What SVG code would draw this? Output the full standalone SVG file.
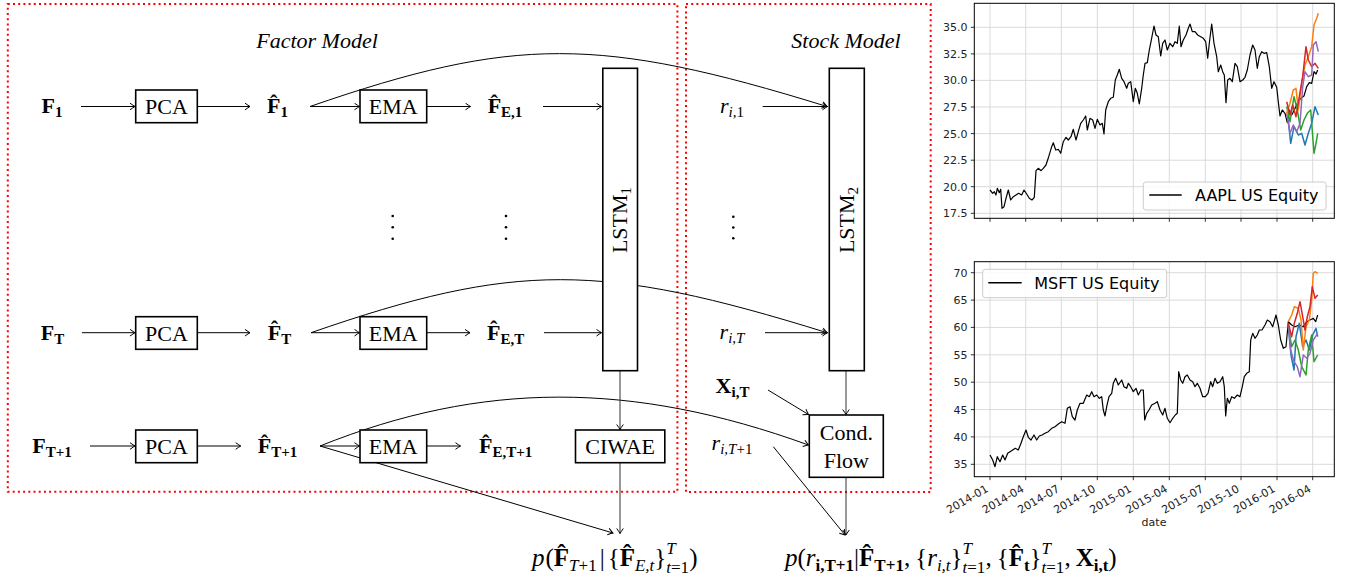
<svg xmlns="http://www.w3.org/2000/svg" width="1347" height="583" viewBox="0 0 1347 583">
<style>
.m{font-family:"Liberation Serif","DejaVu Serif",serif;font-size:22px;fill:#000}
.f{font-size:25px}
.b{font-weight:bold}
.i{font-style:italic}
.s{font-size:15px}
.fs{font-size:17px}
.box{fill:#fff;stroke:#000;stroke-width:1.6}
.red{fill:none;stroke:#f00;stroke-width:2;stroke-dasharray:2 3.2}
.c{fill:none;stroke:#000;stroke-width:1}
.cg{fill:none;stroke:#333;stroke-width:1}
.a{marker-end:url(#ah)}
.dot{fill:#000}
.ax{font-family:"DejaVu Sans",sans-serif;font-size:11px;fill:#222}
.lg{font-family:"DejaVu Sans",sans-serif;font-size:16px;fill:#000}
.grid{stroke:#d6d6d6;stroke-width:0.9;fill:none}
.spine{fill:none;stroke:#000;stroke-width:1}
.tick{stroke:#000;stroke-width:0.8}
.ser{fill:none;stroke-width:1.2;stroke-linejoin:round}
.fc{fill:none;stroke-width:1.5;stroke-linejoin:round}
.legbox{fill:#fff;fill-opacity:0.85;stroke:#ccc;stroke-width:1}
</style>
<defs>
<marker id="ah" viewBox="-6 -4 7 8" refX="0" refY="0" markerWidth="7" markerHeight="8" markerUnits="userSpaceOnUse" orient="auto">
<path d="M-5,-3.3 Q-1.5,-0.8 0,0 Q-1.5,0.8 -5,3.3" fill="none" stroke="#000" stroke-width="1"/>
</marker>
</defs>
<rect width="1347" height="583" fill="#fff"/>

<g id="frames">
<rect class="red" x="7.8" y="4" width="669.6" height="487.7"/>
<rect class="red" x="686" y="4" width="244.7" height="488"/>
<text class="m i" x="317" y="48" text-anchor="middle">Factor Model</text>
<text class="m i" x="846" y="48" text-anchor="middle">Stock Model</text>
</g>

<g id="connectors">
<line class="c a" x1="81" y1="106.5" x2="135" y2="106.5"/>
<line class="c a" x1="197.3" y1="106.5" x2="250" y2="106.5"/>
<line class="c a" x1="310" y1="106.5" x2="359.5" y2="106.5"/>
<line class="c a" x1="426.7" y1="106.5" x2="470.5" y2="106.5"/>
<line class="c a" x1="543" y1="106.5" x2="601.5" y2="106.5"/>
<path class="c a" d="M310,106.5 C514,36 599,36 827,106.5"/>
<line class="c a" x1="762.7" y1="106.5" x2="827.5" y2="106.5"/>

<line class="c a" x1="82" y1="332.7" x2="135" y2="332.7"/>
<line class="c a" x1="197.3" y1="332.7" x2="250" y2="332.7"/>
<line class="c a" x1="311" y1="332.7" x2="359.5" y2="332.7"/>
<line class="c a" x1="426.7" y1="332.7" x2="470" y2="332.7"/>
<line class="c a" x1="544" y1="332.7" x2="601.5" y2="332.7"/>
<path class="c a" d="M311,332.7 C515,262 600,262 827,332.7"/>
<line class="c a" x1="765" y1="332.7" x2="827.5" y2="332.7"/>

<line class="c a" x1="90" y1="446" x2="135" y2="446"/>
<line class="c a" x1="197.3" y1="446" x2="240.7" y2="446"/>
<line class="c a" x1="320" y1="446" x2="359.5" y2="446"/>
<line class="c a" x1="426.7" y1="446" x2="460.5" y2="446"/>
<path class="c a" d="M320,446 C482,381 632,381 808.5,445"/>
<line class="c a" x1="320" y1="446" x2="613" y2="533"/>

<line class="cg a" x1="620" y1="370.7" x2="620" y2="429.5"/>
<line class="cg a" x1="620" y1="462.7" x2="620" y2="533.5"/>
<line class="cg a" x1="846" y1="370.7" x2="846" y2="414.5"/>
<line class="cg a" x1="846" y1="477.3" x2="846" y2="535"/>
<line class="c a" x1="768" y1="390" x2="808.5" y2="414.5"/>
<line class="c a" x1="773.3" y1="446.7" x2="845" y2="535"/>
</g>

<g id="node-F1"><text class="m b" x="52" y="113" text-anchor="middle">F<tspan class="s" dy="4">1</tspan></text></g>
<g id="node-PCA1"><rect class="box" x="135.7" y="90" width="61.6" height="32.7"/><text class="m" x="166.5" y="114" text-anchor="middle">PCA</text></g>
<g id="node-Fhat1"><text class="m b" x="277.5" y="113" text-anchor="middle">F̂<tspan class="s" dy="4">1</tspan></text></g>
<g id="node-EMA1"><rect class="box" x="360" y="90" width="66.7" height="32.7"/><text class="m" x="393.3" y="114" text-anchor="middle">EMA</text></g>
<g id="node-FhatE1"><text class="m b" x="505" y="113" text-anchor="middle">F̂<tspan class="s" dy="4">E,1</tspan></text></g>

<g id="node-FT"><text class="m b" x="52.5" y="339.5" text-anchor="middle">F<tspan class="s" dy="4">T</tspan></text></g>
<g id="node-PCAT"><rect class="box" x="135.7" y="316.7" width="61.6" height="32.6"/><text class="m" x="166.5" y="340.6" text-anchor="middle">PCA</text></g>
<g id="node-FhatT"><text class="m b" x="279.5" y="339.5" text-anchor="middle">F̂<tspan class="s" dy="4">T</tspan></text></g>
<g id="node-EMAT"><rect class="box" x="360" y="316.7" width="66.7" height="32.6"/><text class="m" x="393.3" y="340.6" text-anchor="middle">EMA</text></g>
<g id="node-FhatET"><text class="m b" x="505.6" y="339.5" text-anchor="middle">F̂<tspan class="s" dy="4">E,T</tspan></text></g>

<g id="node-FT1"><text class="m b" x="52" y="453" text-anchor="middle">F<tspan class="s" dy="4">T+1</tspan></text></g>
<g id="node-PCAT1"><rect class="box" x="135.7" y="430" width="61.6" height="32.7"/><text class="m" x="166.5" y="454" text-anchor="middle">PCA</text></g>
<g id="node-FhatT1"><text class="m b" x="277.5" y="453" text-anchor="middle">F̂<tspan class="s" dy="4">T+1</tspan></text></g>
<g id="node-EMAT1"><rect class="box" x="360" y="430" width="66.7" height="32.7"/><text class="m" x="393.3" y="454" text-anchor="middle">EMA</text></g>
<g id="node-FhatET1"><text class="m b" x="505.6" y="453" text-anchor="middle">F̂<tspan class="s" dy="4">E,T+1</tspan></text></g>

<g id="dots">
<circle class="dot" cx="392.7" cy="216" r="1.3"/><circle class="dot" cx="392.7" cy="227.3" r="1.3"/><circle class="dot" cx="392.7" cy="238.7" r="1.3"/>
<circle class="dot" cx="506" cy="216" r="1.3"/><circle class="dot" cx="506" cy="227.3" r="1.3"/><circle class="dot" cx="506" cy="238.7" r="1.3"/>
<circle class="dot" cx="733.3" cy="216.7" r="1.3"/><circle class="dot" cx="733.3" cy="227.5" r="1.3"/><circle class="dot" cx="733.3" cy="238.3" r="1.3"/>
</g>

<g id="node-LSTM1"><rect class="box" x="602.8" y="68.3" width="34.7" height="302.4"/><text class="m" transform="translate(627,220) rotate(-90)" text-anchor="middle">LSTM<tspan class="s" dy="4">1</tspan></text></g>
<g id="node-CIWAE"><rect class="box" x="575.5" y="430" width="89.3" height="32.7"/><text class="m" x="620.2" y="454" text-anchor="middle">CIWAE</text></g>

<g id="node-ri1"><text class="m i" x="732" y="113" text-anchor="middle">r<tspan class="s" dy="4">i,</tspan><tspan class="s" font-style="normal">1</tspan></text></g>
<g id="node-riT"><text class="m i" x="732" y="339" text-anchor="middle">r<tspan class="s" dy="4">i,T</tspan></text></g>
<g id="node-XiT"><text class="m b" x="732.5" y="393" text-anchor="middle">X<tspan class="s" dy="4">i,T</tspan></text></g>
<g id="node-riT1"><text class="m i" x="732" y="450" text-anchor="middle">r<tspan class="s" dy="4">i,T</tspan><tspan class="s" font-style="normal">+1</tspan></text></g>
<g id="node-LSTM2"><rect class="box" x="829.3" y="68.3" width="35" height="302.4"/><text class="m" transform="translate(853.5,220) rotate(-90)" text-anchor="middle">LSTM<tspan class="s" dy="4">2</tspan></text></g>
<g id="node-CondFlow"><rect class="box" x="809.3" y="415" width="74" height="62.3"/><text class="m" x="846.3" y="440" text-anchor="middle">Cond.</text><text class="m" x="846.3" y="468" text-anchor="middle">Flow</text></g>

<g id="node-formula1"><text class="m f" x="532" y="566"><tspan class="i">p</tspan><tspan dx="1">(</tspan><tspan class="b">F̂</tspan><tspan class="fs i" dy="4.5">T</tspan><tspan class="fs">+1</tspan><tspan dy="-4.5" dx="3">|</tspan><tspan dx="3">{</tspan><tspan class="b">F̂</tspan><tspan class="fs i" dy="4.5">E,t</tspan><tspan dy="-4.5">}</tspan><tspan class="fs i" dy="-12.5">T</tspan><tspan class="fs i" dx="-9.5" dy="19">t</tspan><tspan class="fs">=1</tspan><tspan dy="-6.5">)</tspan></text></g>

<g id="node-formula2"><text class="m f" x="785" y="566"><tspan class="i">p</tspan>(<tspan class="i">r</tspan><tspan class="fs b" dy="4.5">i,T+1</tspan><tspan dy="-4.5">|</tspan><tspan class="b">F̂</tspan><tspan class="fs b" dy="4.5">T+1</tspan><tspan dy="-4.5">,</tspan><tspan dx="5">{</tspan><tspan class="i">r</tspan><tspan class="fs i" dy="4.5">i,t</tspan><tspan dy="-4.5">}</tspan><tspan class="fs i" dy="-12.5">T</tspan><tspan class="fs i" dx="-9.5" dy="19">t</tspan><tspan class="fs">=1</tspan><tspan dy="-6.5">,</tspan><tspan dx="5">{</tspan><tspan class="b">F̂</tspan><tspan class="fs b" dy="4.5">t</tspan><tspan dy="-4.5">}</tspan><tspan class="fs i" dy="-12.5">T</tspan><tspan class="fs i" dx="-9.5" dy="19">t</tspan><tspan class="fs">=1</tspan><tspan dy="-6.5">,</tspan><tspan class="b" dx="5">X</tspan><tspan class="fs b" dy="4.5">i,t</tspan><tspan dy="-4.5">)</tspan></text></g>

<g id="chart-aapl">
<g class="grid">
<path d="M990,3.3V218.3M1025.7,3.3V218.3M1061.3,3.3V218.3M1097.3,3.3V218.3M1133.3,3.3V218.3M1169.3,3.3V218.3M1205.3,3.3V218.3M1241,3.3V218.3M1277,3.3V218.3M1312.7,3.3V218.3"/>
<path d="M974.3,27.3H1334.3M974.3,53.9H1334.3M974.3,80.4H1334.3M974.3,107H1334.3M974.3,133.6H1334.3M974.3,160.2H1334.3M974.3,186.7H1334.3M974.3,213.3H1334.3"/>
</g>
<polyline class="ser" stroke="#000" points="990,190 992.7,193.3 994.3,191.7 996,195 997.3,188.3 999.3,192.7 1000.7,189.3 1002,208.3 1004,206.7 1006,198.3 1008.3,190 1010.7,200 1013.3,196.7 1016,195 1018.7,193.3 1021.7,195 1024,190 1026.7,194 1029.3,198.3 1032,200 1034.3,197.3 1036,170.7 1038.3,168.3 1041,170.7 1043.3,168.3 1046,165 1048.7,156.7 1051.7,146.7 1053.3,142.7 1055.7,150 1058.3,149.3 1060.7,153.3 1063.3,141.7 1066,137.3 1068.3,140 1071,136.7 1073.3,129.3 1076,140 1078.3,131.7 1080.7,123.3 1083.3,120 1085.7,116 1087.3,130 1090,118.3 1092.7,120 1095,128.3 1097.3,119.3 1100,125 1102.3,123.3 1104,134 1105.7,110 1108.3,101.7 1110.7,98.3 1113.3,97.3 1115.3,80 1117.3,75 1119.3,69.3 1121.7,78.3 1124,81.7 1126.7,88.3 1128.3,83.3 1130.7,81.7 1133.3,101.7 1135.3,88.3 1137.3,93.3 1139.3,104 1141.7,88.3 1143.3,75 1145,63.3 1147.3,62.7 1149.3,50 1151,41.7 1154,26 1156,35 1158.3,36.7 1160.7,56 1162.7,43.3 1165,40 1167.3,50 1170,43.3 1172.7,46.7 1175,41.7 1177.3,43.3 1179.3,26 1181,46.7 1183.3,40 1186,35 1188.3,28.3 1190,24 1192.3,31.7 1195,31.7 1197.7,35 1200.7,36.7 1203.3,38.3 1205.7,41.7 1207.7,58.3 1209.3,43.3 1211.7,24 1214,43.3 1216.7,56.7 1218.3,71.7 1220.7,65 1222.7,71.7 1224.3,75 1226,102.7 1227.7,80 1230,78.3 1232.3,81.7 1235,63.3 1237.3,66.7 1240,81.7 1242.7,80 1245,77.3 1247.3,70 1250,55 1252.7,45 1255,50 1257.3,68.3 1259.3,56.7 1261.7,51.7 1264,53.3 1266.7,52.7 1269.3,66.7 1271.7,88.3 1274,81.7 1276.7,87.3 1278.3,101.7 1280,116 1282.3,110 1285,113.3 1287.3,122.7 1289.3,110 1291.7,115 1294.3,110 1297.3,103.3 1300.7,98.3 1304,96 1306.7,86.7 1309.3,82.7 1311.7,83.3 1314,71.7 1316,74 1317.7,70"/>
<polyline class="fc" stroke="#1f77b4" points="1288.3,120 1290.7,143.3 1294,126.7 1298.3,135 1301.7,133.3 1305,145 1308.3,133.3 1311.7,123.3 1315,106.7 1318.3,115"/>
<polyline class="fc" stroke="#2ca02c" points="1286.7,106.7 1290,121.7 1294,96.7 1297.3,110 1300.7,130 1304,120 1307.3,113.3 1310.7,110 1314,153.3 1316,143.3 1317.7,133.3"/>
<polyline class="fc" stroke="#ff7f0e" points="1286.7,113.3 1290,103.3 1293.3,90 1296,88.3 1298.3,110 1301.7,83.3 1305,65 1308.3,56.7 1311.7,46.7 1314,25 1316.7,18.3 1318.3,13.3"/>
<polyline class="fc" stroke="#d62728" points="1286.7,101.7 1290,115 1292.7,105 1296,116.7 1299.3,96.7 1302.7,76.7 1306,46.7 1308.3,60 1311.7,66.7 1315,63.3 1318.3,68.3"/>
<polyline class="fc" stroke="#9467bd" points="1286.7,113.3 1290,133.3 1293.3,125 1296.7,131.7 1300,123.3 1302.7,86.7 1305,71.7 1308.3,76.7 1311.7,75 1313.3,45 1316,41.7 1318.3,51.7"/>
<rect class="spine" x="974.3" y="3.3" width="360" height="215"/>
<path class="tick" d="M974.3,27.3h-3.5M974.3,53.9h-3.5M974.3,80.4h-3.5M974.3,107h-3.5M974.3,133.6h-3.5M974.3,160.2h-3.5M974.3,186.7h-3.5M974.3,213.3h-3.5M990,218.3v3.5M1025.7,218.3v3.5M1061.3,218.3v3.5M1097.3,218.3v3.5M1133.3,218.3v3.5M1169.3,218.3v3.5M1205.3,218.3v3.5M1241,218.3v3.5M1277,218.3v3.5M1312.7,218.3v3.5"/>
<g class="ax" text-anchor="end">
<text x="967.5" y="31.3">35.0</text><text x="967.5" y="57.9">32.5</text><text x="967.5" y="84.4">30.0</text><text x="967.5" y="111">27.5</text><text x="967.5" y="137.6">25.0</text><text x="967.5" y="164.2">22.5</text><text x="967.5" y="190.7">20.0</text><text x="967.5" y="217.3">17.5</text>
</g>
<rect class="legbox" x="1143.3" y="182" width="182.7" height="28" rx="2.5"/>
<line x1="1149.3" y1="195" x2="1181.7" y2="195" stroke="#000" stroke-width="1.5"/>
<text class="lg" x="1195" y="200.8">AAPL US Equity</text>
</g>

<g id="chart-msft">
<g class="grid">
<path d="M990,261.7V476.7M1025.7,261.7V476.7M1061.3,261.7V476.7M1097.3,261.7V476.7M1133.3,261.7V476.7M1169.3,261.7V476.7M1205.3,261.7V476.7M1241,261.7V476.7M1277,261.7V476.7M1312.7,261.7V476.7"/>
<path d="M974.3,272.7H1334.3M974.3,300.1H1334.3M974.3,327.4H1334.3M974.3,354.8H1334.3M974.3,382.2H1334.3M974.3,409.6H1334.3M974.3,436.9H1334.3M974.3,464.3H1334.3"/>
</g>
<polyline class="ser" stroke="#000" points="990,455 992.7,460 995,466.7 997.3,456.7 1000,461.7 1002.7,455 1005,460 1007.7,453.3 1010,451.7 1012.7,450 1015.3,448.3 1018.3,450 1020.7,444 1023.3,436.7 1026,430 1028.3,437.3 1031,440 1034,435 1036.7,440 1039.3,436 1042,435 1045,433.3 1048.3,431.7 1051.7,428.3 1055,426.7 1058.3,424 1061.7,421.7 1065,423.3 1067.3,408.3 1070,406.7 1072.3,416.7 1075,420 1077.3,410 1080,403.3 1083.3,403.3 1086.7,395 1089.3,396.7 1091.7,391.7 1094,396.7 1096.7,395 1099.3,398.3 1101.7,396.7 1103.3,410 1105,416 1106.7,406.7 1109,396.7 1111.7,393.3 1113.3,383.3 1115.7,378.3 1118.3,385 1121.7,380 1124,386.7 1126.7,388.3 1128.3,383.3 1130.7,386.7 1133.3,391.7 1136,388.3 1138.3,395 1141,390 1143.3,390 1144.7,420 1146.7,413.3 1149,410 1151.7,405 1155,403.3 1157.3,401.7 1160,410 1162.7,415 1165,408.3 1167.3,418.3 1170,422.7 1172.7,418.3 1175.3,415 1177.3,413.3 1178.7,371.7 1180.7,380 1182.7,383.3 1185,376.7 1187.3,375 1190,380 1192.7,381.7 1195,386.7 1197.3,383.3 1200,388.3 1202.7,396.7 1205.3,396.7 1208,393.3 1210.7,381.7 1212.7,386.7 1215,378.3 1217.3,383.3 1220,381.7 1222.7,376.7 1224.3,386.7 1225.7,416 1227.3,398.3 1229.3,403.3 1231.7,396.7 1234.3,398.3 1237.3,395 1240,396.7 1242.3,386.7 1244.3,376.7 1246.7,373.3 1249.3,371.7 1250.7,340 1252.7,333.3 1255,338.3 1257.3,335 1259.3,330 1262,330 1265,325 1267.3,320 1270,321.7 1272.7,326.7 1276,315 1278.3,325 1280.7,340 1283.3,348.3 1286,346.7 1288.3,321.7 1291.7,325 1295,326.7 1299.3,325 1303.3,326.7 1306.7,321.7 1310,320 1313.3,318.3 1315.7,321.7 1317.7,315"/>
<polyline class="fc" stroke="#1f77b4" points="1288.3,326.7 1291,355 1294,370 1296,336.7 1299.3,323.3 1302.7,346.7 1306,340 1309.3,350 1312.7,335 1316,328.3 1317.7,336.7"/>
<polyline class="fc" stroke="#2ca02c" points="1288.3,326.7 1291.7,346.7 1295,340 1298.3,350 1301.7,366.7 1306,375 1308.3,350 1311.7,335 1314,361.7 1317.7,355"/>
<polyline class="fc" stroke="#9467bd" points="1288.3,323.3 1290.7,350 1294,361.7 1297.3,366.7 1300,376.7 1303.3,355 1306.7,358.3 1310,353.3 1313.3,340 1317.7,333.3"/>
<polyline class="fc" stroke="#ff7f0e" points="1288.3,321.7 1291.7,315 1294.3,306.7 1298.3,308.3 1301,320 1303.3,350 1306,326.7 1309.3,320 1311.7,300 1313.3,273.3 1315,271.7 1317.7,273.3"/>
<polyline class="fc" stroke="#d62728" points="1288.3,323.3 1291.7,336.7 1294.3,323.3 1297.3,313.3 1300,301.7 1302.7,316.7 1305,330 1307.3,316.7 1310,306.7 1312.3,286.7 1315,298.3 1317.7,295"/>
<rect class="spine" x="974.3" y="261.7" width="360" height="215"/>
<path class="tick" d="M974.3,272.7h-3.5M974.3,300.1h-3.5M974.3,327.4h-3.5M974.3,354.8h-3.5M974.3,382.2h-3.5M974.3,409.6h-3.5M974.3,436.9h-3.5M974.3,464.3h-3.5M990,476.7v3.5M1025.7,476.7v3.5M1061.3,476.7v3.5M1097.3,476.7v3.5M1133.3,476.7v3.5M1169.3,476.7v3.5M1205.3,476.7v3.5M1241,476.7v3.5M1277,476.7v3.5M1312.7,476.7v3.5"/>
<g class="ax" text-anchor="end">
<text x="967.5" y="276.7">70</text><text x="967.5" y="304.1">65</text><text x="967.5" y="331.4">60</text><text x="967.5" y="358.8">55</text><text x="967.5" y="386.2">50</text><text x="967.5" y="413.6">45</text><text x="967.5" y="440.9">40</text><text x="967.5" y="468.3">35</text>
<text transform="translate(989,491) rotate(-30)">2014-01</text>
<text transform="translate(1024.7,491) rotate(-30)">2014-04</text>
<text transform="translate(1060.3,491) rotate(-30)">2014-07</text>
<text transform="translate(1096.3,491) rotate(-30)">2014-10</text>
<text transform="translate(1132.3,491) rotate(-30)">2015-01</text>
<text transform="translate(1168.3,491) rotate(-30)">2015-04</text>
<text transform="translate(1204.3,491) rotate(-30)">2015-07</text>
<text transform="translate(1240,491) rotate(-30)">2015-10</text>
<text transform="translate(1276,491) rotate(-30)">2016-01</text>
<text transform="translate(1311.7,491) rotate(-30)">2016-04</text>
</g>
<text class="ax" x="1154" y="525.5" text-anchor="middle">date</text>
<rect class="legbox" x="982.7" y="269.3" width="184" height="28.4" rx="2.5"/>
<line x1="988.3" y1="282.7" x2="1021.7" y2="282.7" stroke="#000" stroke-width="1.5"/>
<text class="lg" x="1034.3" y="288.5">MSFT US Equity</text>
</g>
</svg>
